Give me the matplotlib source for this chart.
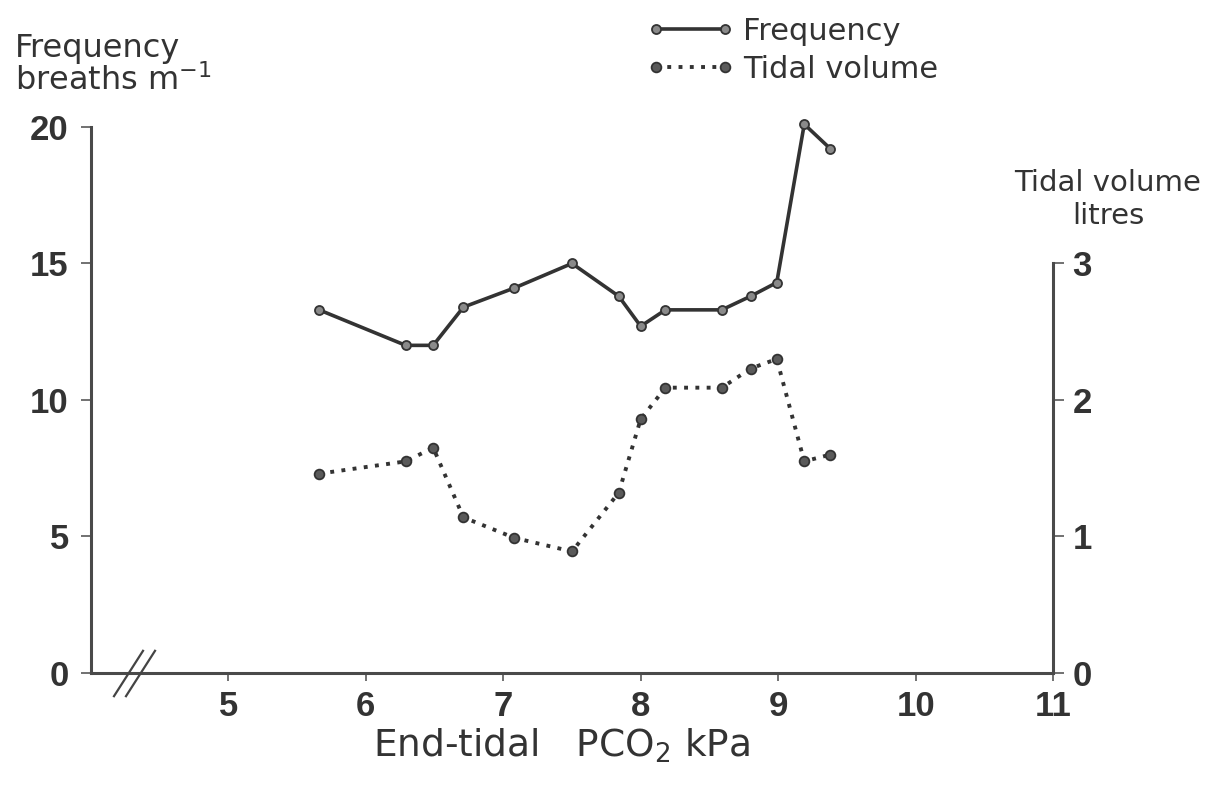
import matplotlib
matplotlib.use('Agg')
import matplotlib.pyplot as plt

# end-tidal PCO2 in kPa
pco2 = [5.66, 6.29, 6.49, 6.71, 7.08, 7.50, 7.84, 8.00, 8.18, 8.59, 8.80, 8.99, 9.19, 9.38]
# breathing frequency, breaths per minute (left axis)
frequency = [13.3, 12.0, 12.0, 13.4, 14.1, 15.0, 13.8, 12.7, 13.3, 13.3, 13.8, 14.3, 20.1, 19.2]
# tidal volume, litres (right axis)
tidal_volume = [1.46, 1.55, 1.65, 1.14, 0.99, 0.89, 1.32, 1.86, 2.09, 2.09, 2.23, 2.30, 1.55, 1.60]

x_ticks = [5, 6, 7, 8, 9, 10, 11]
freq_ticks = [0, 5, 10, 15, 20]
vol_ticks = [0, 1, 2, 3]
series_names = ['Frequency', 'Tidal volume']

ink = '#333333'
num_font = ['Liberation Sans Narrow', 'Liberation Sans', 'DejaVu Sans']

fig = plt.figure(figsize=(12.08, 7.86), dpi=100)
ax = fig.add_axes([0.0753, 0.1438, 0.7964, 0.6947])
ax2 = ax.twinx()

ax.set_xlim(4, 11)
ax.set_ylim(0, 20)
ax2.set_ylim(0, 4)   # 3 litres sits level with 15 breaths

for s in ['top', 'right']:
    ax.spines[s].set_visible(False)
for s in ['top', 'left', 'bottom']:
    ax2.spines[s].set_visible(False)
for sp in [ax.spines['left'], ax.spines['bottom'], ax2.spines['right']]:
    sp.set_linewidth(2.2)
    sp.set_color('#4a4a4a')
ax.spines['left'].set_bounds(0, 20)
ax2.spines['right'].set_bounds(0, 3)

ax.set_xticks(x_ticks)
ax.set_yticks(freq_ticks)
ax2.set_yticks(vol_ticks)
ax.tick_params(axis='y', direction='out', length=7, width=1.1, color='#4a4a4a', pad=9)
ax.tick_params(axis='x', direction='out', length=6, width=1.1, color='#4a4a4a', pad=6)
ax2.tick_params(axis='y', direction='out', length=8, width=1.1, color='#4a4a4a', pad=6)
for lab in ax.get_xticklabels() + ax.get_yticklabels() + ax2.get_yticklabels():
    lab.set_family(num_font)
    lab.set_fontsize(25)
    lab.set_fontweight('bold')
    lab.set_color(ink)

# broken x axis marks
brk = [(-0.64, -1), (0.64, 1)]
ax.plot([4.27, 4.36], [0, 0], ls='none', marker=brk, ms=34, mew=1.6,
        color='#444444', clip_on=False, zorder=5)

l1, = ax.plot(pco2, frequency, color=ink, lw=2.6, marker='o', ms=6.5,
              mfc='#8a8a8a', mec=ink, mew=1.3, clip_on=False)
l2, = ax2.plot(pco2, tidal_volume, color=ink, lw=2.8, ls=(0, (1.0, 1.9)),
               marker='o', ms=7, mfc='#5a5a5a', mec=ink, mew=1.3, clip_on=False)

fig.legend([l1, l2], series_names, loc='upper left',
           bbox_to_anchor=(647 / 1208, 1 - 17 / 786), frameon=False,
           fontsize=22, handlelength=2.85, handletextpad=0.3, labelspacing=0.28,
           borderpad=0, borderaxespad=0, numpoints=2, labelcolor=ink)

fig.text(15 / 1208, 1 - 57 / 786, 'Frequency', fontsize=23,
         color=ink, ha='left', va='baseline')
fig.text(15 / 1208, 1 - 90 / 786, 'breaths m$^{-1}$', fontsize=23,
         color=ink, ha='left', va='baseline')
fig.text(1108 / 1208, 1 - 191 / 786, 'Tidal volume', fontsize=21,
         color=ink, ha='center', va='baseline')
fig.text(1108 / 1208, 1 - 224 / 786, 'litres', fontsize=21,
         color=ink, ha='center', va='baseline')
fig.text(562 / 1208, 1 - 757 / 786, 'End-tidal   PCO$_2$ kPa', fontsize=27,
         color=ink, ha='center', va='baseline')

fig.savefig('out.png', dpi=100)
